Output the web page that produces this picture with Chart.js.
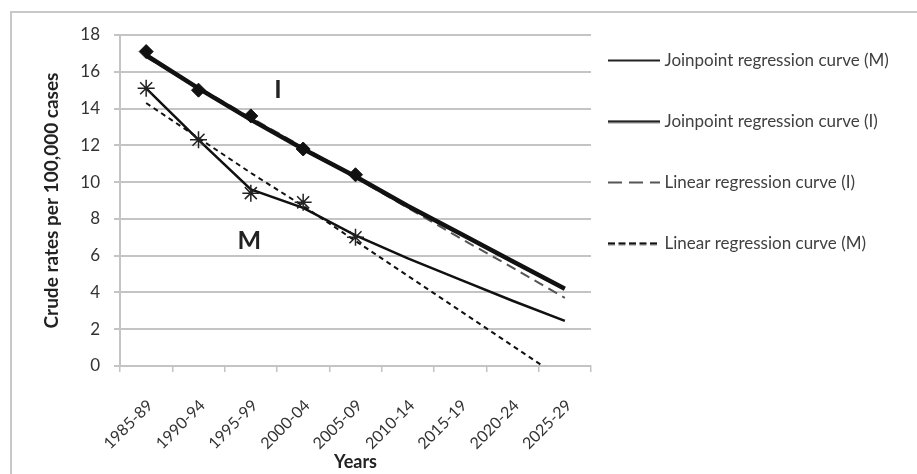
<!DOCTYPE html>
<html>
<head>
<meta charset="utf-8">
<script src="https://cdn.jsdelivr.net/npm/chart.js@4.4.1/dist/chart.umd.min.js"></script>
<style>
  html, body { margin: 0; padding: 0; background: #fff; }
  #frame { position: absolute; left: 10px; top: 11px; width: 930px; height: 480px;
           border-top: 2px solid #c8c8c8; border-left: 2px solid #c8c8c8; }
  #wrap { position: absolute; left: 0; top: 0; width: 917px; height: 474px; }
</style>
</head>
<body>
<div id="frame"></div>
<div id="wrap"><canvas id="chart" width="917" height="474"></canvas></div>
<script>
// periods on the x axis
const periods = ['1985-89', '1990-94', '1995-99', '2000-04', '2005-09', '2010-14', '2015-19', '2020-24', '2025-29'];

// observed crude rates (first five periods only)
const observedI = [17.1, 15.0, 13.6, 11.8, 10.4, null, null, null, null];
const observedM = [15.1, 12.3, 9.4, 8.9, 7.0, null, null, null, null];

// fitted curves
const joinpointM = [15.1, 12.3, 9.6, 8.6, 7.1, 5.85, 4.7, 3.55, 2.45];
const joinpointI = [16.9, 15.1, 13.4, 11.8, 10.3, 8.7, 7.2, 5.7, 4.2];
const linearI = [16.8, 15.15, 13.5, 11.9, 10.25, 8.6, 6.95, 5.35, 3.7];
const linearM = [14.3, 12.4, 10.5, 8.7, 6.8, 4.9, 3.0, 1.1, -0.8];

// in-plot labels (category index, rate)
const noteText = ['I', 'M'];
const noteX = [2.52, 1.97];
const noteY = [15.0, 6.8];

const FONT = 'Lato, "Open Sans", sans-serif';
const GRID = '#c4c4c4';

// little line swatches for the legend (the built-in line style ignores dashes)
function swatch(dash, width, color) {
  const c = document.createElement('canvas');
  c.width = 52;
  c.height = 4;
  const g = c.getContext('2d');
  g.strokeStyle = color;
  g.lineWidth = width;
  g.setLineDash(dash);
  g.beginPath();
  g.moveTo(0, 2);
  g.lineTo(52, 2);
  g.stroke();
  return c;
}

const legendPlace = {
  id: 'legendPlace',
  afterLayout(chart) {
    const lg = chart.legend;
    const pad = chart.options.plugins.legend.labels.padding;
    const dx = chart.chartArea.right + 21 - pad - lg.left;
    lg.left += dx;
    lg.right += dx;
    lg.top = chart.chartArea.top + 17 - pad;
  }
};

const notes = {
  id: 'notes',
  afterDatasetsDraw(chart) {
    const { ctx, scales: { x, y } } = chart;
    ctx.save();
    ctx.font = 'bold 25px ' + FONT;
    ctx.fillStyle = '#222';
    ctx.textAlign = 'center';
    ctx.textBaseline = 'middle';
    noteText.forEach((t, i) => {
      ctx.fillText(t, x.getPixelForValue(noteX[i]), y.getPixelForValue(noteY[i]));
    });
    ctx.restore();
  }
};

new Chart(document.getElementById('chart'), {
  type: 'line',
  data: {
    labels: periods,
    datasets: [
      {
        label: 'Observed (I)',
        data: observedI,
        showLine: false,
        pointStyle: 'rectRot',
        pointRadius: 7,
        backgroundColor: '#111',
        borderColor: '#111',
        borderWidth: 1,
        inLegend: false
      },
      {
        label: 'Observed (M)',
        data: observedM,
        showLine: false,
        pointStyle: 'star',
        pointRadius: 8.5,
        borderColor: '#222',
        borderWidth: 1.5,
        inLegend: false
      },
      {
        label: 'Joinpoint regression curve (M)',
        data: joinpointM,
        borderColor: '#111',
        borderWidth: 2.5,
        pointRadius: 0,
        tension: 0,
        swatch: swatch([], 2, '#222')
      },
      {
        label: 'Joinpoint regression curve (I)',
        data: joinpointI,
        borderColor: '#111',
        borderWidth: 4.5,
        pointRadius: 0,
        tension: 0,
        swatch: swatch([], 2.5, '#222')
      },
      {
        label: 'Linear regression curve (I)',
        data: linearI,
        borderColor: '#555',
        borderWidth: 2,
        borderDash: [10, 6],
        pointRadius: 0,
        tension: 0,
        swatch: swatch([14, 7], 2, '#555')
      },
      {
        label: 'Linear regression curve (M)',
        data: linearM,
        borderColor: '#111',
        borderWidth: 2,
        borderDash: [5, 4],
        pointRadius: 0,
        tension: 0,
        clip: 0,
        swatch: swatch([7, 3.5], 2.5, '#111')
      }
    ]
  },
  options: {
    responsive: false,
    animation: false,
    layout: { padding: { left: 0, top: 35, right: 0, bottom: 0 } },
    scales: {
      x: {
        offset: true,
        afterFit: s => { s.height = 108; },
        grid: { offset: true, drawOnChartArea: false, drawTicks: true, tickLength: 6, color: GRID, lineWidth: 1.5 },
        border: { color: GRID, width: 2 },
        ticks: { minRotation: 45, maxRotation: 45, padding: 24, labelOffset: 4, color: '#333', font: { family: FONT, size: 16 } },
        title: { display: true, text: 'Years', color: '#222', padding: { top: 0, bottom: 1 }, font: { family: FONT, size: 18, weight: 'bold' } }
      },
      y: {
        min: 0,
        max: 18,
        afterFit: s => { s.width = 120; },
        grid: { color: GRID, lineWidth: 2, tickLength: 6 },
        border: { color: GRID, width: 2 },
        ticks: { stepSize: 2, padding: 14, color: '#333', font: { family: FONT, size: 17 } },
        title: { display: true, text: 'Crude rates per 100,000 cases', color: '#222', padding: { top: 40, bottom: 4 }, font: { family: FONT, size: 19, weight: 'bold' } }
      }
    },
    plugins: {
      legend: {
        position: 'right',
        align: 'start',
        maxWidth: 326,
        labels: {
          usePointStyle: true,
          pointStyleWidth: 44,
          padding: 44,
          color: '#404040',
          font: { family: FONT, size: 17 },
          generateLabels: chart => Chart.defaults.plugins.legend.labels.generateLabels(chart)
            .filter(item => chart.data.datasets[item.datasetIndex].inLegend !== false)
            .map(item => Object.assign(item, { pointStyle: chart.data.datasets[item.datasetIndex].swatch }))
        }
      },
      tooltip: { enabled: false }
    }
  },
  plugins: [legendPlace, notes]
});
</script>
</body>
</html>
